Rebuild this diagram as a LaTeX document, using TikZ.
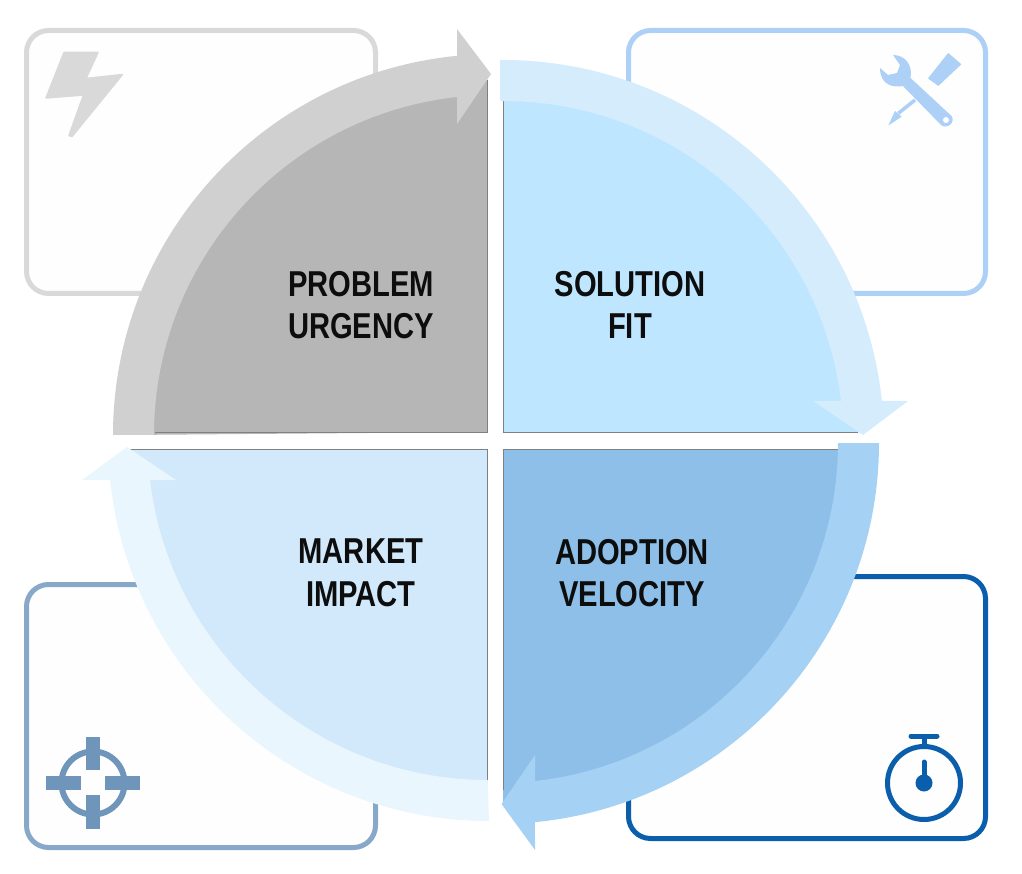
\documentclass[tikz,border=0pt]{standalone}
\usepackage{fontspec}
\setmainfont[FakeStretch=0.81]{Liberation Sans}
\definecolor{greyline}{HTML}{D9D9D9}
\definecolor{greyband}{HTML}{D0D0D0}
\definecolor{greyfill}{HTML}{B6B6B6}
\definecolor{paleline}{HTML}{ADD0F7}
\definecolor{paleband}{HTML}{D4ECFC}
\definecolor{palefill}{HTML}{BFE6FF}
\definecolor{deepline}{HTML}{0A5EAB}
\definecolor{deepband}{HTML}{A5D2F4}
\definecolor{deepfill}{HTML}{8DBFE8}
\definecolor{slateline}{HTML}{87A8C9}
\definecolor{slateicon}{HTML}{7095BA}
\definecolor{iceband}{HTML}{EAF6FE}
\definecolor{icefill}{HTML}{D1E9FA}
\definecolor{edgegrey}{HTML}{808080}
\definecolor{cardfill}{HTML}{FEFEFE}
\tikzset{
    card/.style={line width=5pt,fill=cardfill,rounded corners=22pt},
    quadlabel/.style={inner sep=0pt,align=center,text=black!95,
        font=\bfseries\fontsize{36}{42.5}\selectfont},
    edge/.style={edgegrey,line width=1pt}
}
\begin{document}
\begin{tikzpicture}[x=1pt,y=-1pt]
    \useasboundingbox (0,0) rectangle (1022,874);
    %% cards
    \draw[card,draw=greyline] (26.5,30.5) rectangle (375.5,293.5);
    \draw[card,draw=paleline] (628.5,30.5) rectangle (985.5,293.5);
    \draw[card,draw=slateline] (26.5,584.5) rectangle (375.5,847.5);
    \draw[card,draw=deepline] (628.5,576.5) rectangle (985.5,838.5);
    %% top left
    \fill[greyfill] (487,432) -- (487,77) arc[start angle=268.9,end angle=180,radius=358] -- cycle;
    \draw[edge] (487,80) -- (487,432) -- (155,432);
    \fill[greyband] (113,435) arc[start angle=180,end angle=264.43,radius=381]
        -- (457,29) -- (491,74) -- (457,124) -- (457,97)
        arc[start angle=263.75,end angle=180,radius=340] -- cycle;
    %% top right
    \fill[palefill] (503,83) arc[start angle=-90,end angle=-1.4,radius=358] -- (503,432) -- cycle;
    \draw[edge] (503,100) -- (503,432) -- (858,432);
    \fill[paleband] (500,60) -- (503,60) arc[start angle=-90,end angle=-6.03,radius=381]
        -- (908,401) -- (863,435) -- (813,401) -- (841,401)
        arc[start angle=-6.76,end angle=-90,radius=340] -- (500,101) -- cycle;
    %% bottom right
    \fill[deepfill] (503,449) -- (858,449) arc[start angle=1,end angle=89.2,radius=360] -- cycle;
    \draw[edge] (838,449) -- (503,449) -- (503,790);
    \fill[deepband] (838,443) -- (879,443) arc[start angle=0,end angle=84.43,radius=381]
        -- (535,850) -- (501.5,804) -- (535,755) -- (535,781)
        arc[start angle=83.75,end angle=0,radius=340] -- cycle;
    %% bottom left
    \fill[icefill] (487,449) -- (130,449) arc[start angle=178.5,end angle=90,radius=358] -- cycle;
    \draw[edge] (130,449) -- (487,449) -- (487,780);
    \fill[iceband] (489,821) arc[start angle=90,end angle=173.97,radius=381]
        -- (82,480) -- (127,447) -- (176,480) -- (150,480)
        arc[start angle=173.24,end angle=90,radius=340] -- cycle;
    %% bolt
    \fill[greyline,draw=greyline,line width=1.5pt,line join=round] (64,52.5) -- (98,52.5) -- (86,78.5)
        -- (122.5,74.5) -- (72,136.5) -- (69,135.5) -- (83.5,95) -- (46,98) -- cycle;
    %% tools
    \begin{scope}[paleline]
        \fill (893,55) .. controls (905,55) and (913,65) .. (910.5,78) -- (951.5,116)
            .. controls (956,122) and (947,130) .. (941,125) -- (903,86)
            .. controls (893,88) and (880,85) .. (880,68) -- (888,75) -- (897,73) -- (900,65) -- cycle;
        \fill[white] (946,120) circle (3);
        \fill[draw=paleline,line width=1.5pt,line join=round] (948.3,54) -- (960.2,64.3) -- (938.3,85) -- (929,78.3) -- cycle;
        \draw[line width=3.5pt] (915,100) -- (898.3,113.3);
        \fill (895,111) -- (901.7,116.7) -- (888.3,125.5) -- cycle;
    \end{scope}
    %% target
    \begin{scope}[slateicon]
        \draw[line width=6pt] (93,783) circle (31.5);
        \draw[line width=14pt] (93,737) -- (93,770);
        \draw[line width=14pt] (93,795) -- (93,829);
        \draw[line width=14pt] (46,783) -- (81,783);
        \draw[line width=14pt] (105,783) -- (140,783);
    \end{scope}
    %% stopwatch
    \begin{scope}[deepline,line width=5pt]
        \draw (924,783) circle (36.5);
        \draw[line cap=round] (911,736) -- (937,736);
        \draw (924,736) -- (924,747);
        \draw[line cap=round] (924,762) -- (924,783);
        \fill (924,783) circle (8.5);
    \end{scope}
    %% labels
    \node[quadlabel] (problem) at (361,305) {PROBLEM\\URGENCY};
    \node[quadlabel] (solution) at (630,305) {SOLUTION\\FIT};
    \node[quadlabel] (market) at (361,573) {MARKET\\IMPACT};
    \node[quadlabel] (adoption) at (632,573) {ADOPTION\\VELOCITY};
\end{tikzpicture}
\end{document}
